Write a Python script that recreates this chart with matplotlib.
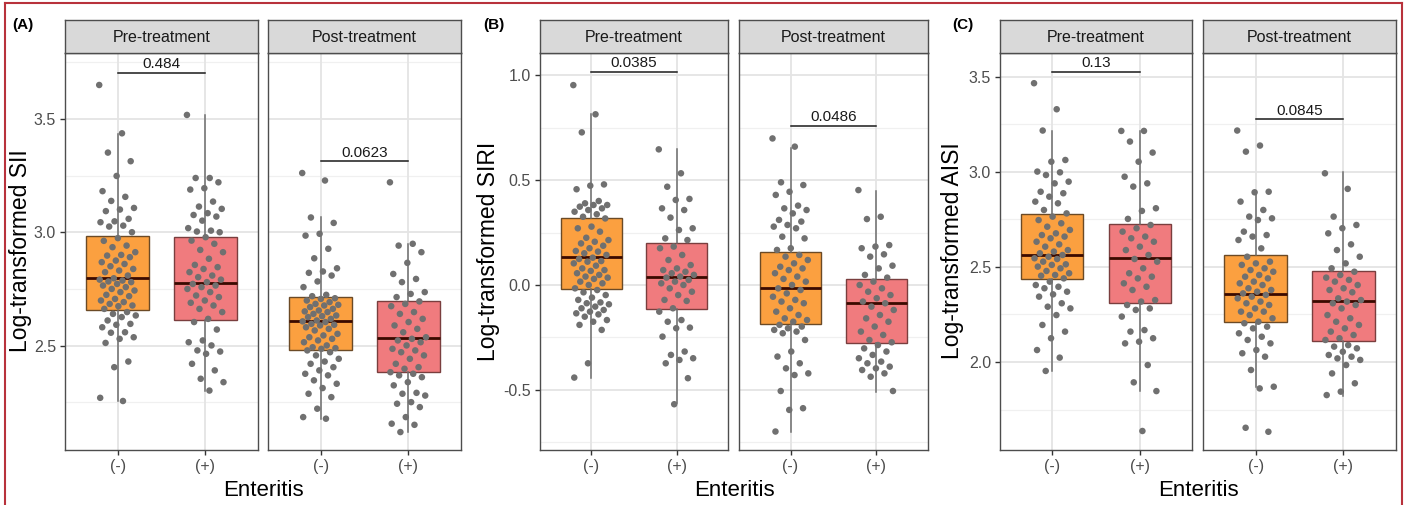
import numpy as np
import matplotlib
matplotlib.use("Agg")
import matplotlib.pyplot as plt
from matplotlib.lines import Line2D

plt.rcParams['font.family'] = ['Liberation Sans', 'DejaVu Sans']
plt.rcParams['axes.unicode_minus'] = False

# ---- data ----
facets = ["Pre-treatment", "Post-treatment"]
groups = ["(-)", "(+)"]

# (A) SII
sii_pre_neg = [3.649, 3.436, 3.351, 3.313, 3.248, 3.181, 3.156, 3.138, 3.107, 3.100, 3.093, 3.059,
               3.048, 3.044, 3.029, 3.025, 3.000, 2.974, 2.962, 2.941, 2.934, 2.912, 2.900, 2.897,
               2.890, 2.875, 2.868, 2.860, 2.850, 2.838, 2.831, 2.824, 2.809, 2.797, 2.791, 2.787,
               2.783, 2.780, 2.772, 2.765, 2.758, 2.750, 2.743, 2.736, 2.724, 2.718, 2.706, 2.699,
               2.692, 2.684, 2.677, 2.674, 2.662, 2.648, 2.640, 2.633, 2.626, 2.611, 2.596, 2.592,
               2.581, 2.559, 2.557, 2.537, 2.530, 2.512, 2.430, 2.405, 2.270, 2.256]
sii_pre_pos = [3.517, 3.239, 3.239, 3.220, 3.194, 3.188, 3.135, 3.113, 3.103, 3.084, 3.076, 3.069,
               3.051, 3.018, 3.007, 3.003, 3.000, 2.978, 2.963, 2.949, 2.922, 2.912, 2.883, 2.856,
               2.846, 2.838, 2.824, 2.809, 2.802, 2.791, 2.780, 2.772, 2.765, 2.758, 2.750, 2.736,
               2.721, 2.714, 2.699, 2.689, 2.677, 2.662, 2.648, 2.618, 2.604, 2.571, 2.523, 2.515,
               2.501, 2.479, 2.474, 2.464, 2.420, 2.391, 2.354, 2.339, 2.302]
sii_post_neg = [3.261, 3.228, 3.065, 3.041, 2.993, 2.985, 2.927, 2.885, 2.841, 2.827, 2.821, 2.809,
                2.783, 2.758, 2.724, 2.718, 2.709, 2.706, 2.699, 2.692, 2.684, 2.680, 2.677, 2.670,
                2.662, 2.655, 2.651, 2.648, 2.640, 2.633, 2.630, 2.626, 2.618, 2.611, 2.607, 2.604,
                2.596, 2.592, 2.589, 2.581, 2.574, 2.567, 2.552, 2.545, 2.537, 2.530, 2.523, 2.515,
                2.501, 2.493, 2.489, 2.486, 2.479, 2.471, 2.457, 2.442, 2.430, 2.420, 2.405, 2.391,
                2.376, 2.369, 2.347, 2.332, 2.313, 2.288, 2.273, 2.222, 2.185, 2.178]
sii_post_pos = [3.220, 2.949, 2.941, 2.912, 2.865, 2.816, 2.794, 2.780, 2.736, 2.728, 2.714, 2.695,
                2.684, 2.674, 2.648, 2.640, 2.618, 2.604, 2.589, 2.574, 2.559, 2.537, 2.530, 2.523,
                2.515, 2.501, 2.486, 2.479, 2.471, 2.457, 2.442, 2.420, 2.405, 2.398, 2.383, 2.376,
                2.369, 2.361, 2.339, 2.325, 2.292, 2.288, 2.280, 2.251, 2.244, 2.229, 2.185, 2.156,
                2.151, 2.119]
sii_q1 = [2.659, 2.615, 2.481, 2.385]
sii_med = [2.796, 2.776, 2.607, 2.534]
sii_q3 = [2.982, 2.980, 2.716, 2.698]
sii_lo = [2.258, 2.300, 2.178, 2.118]
sii_hi = [3.434, 3.518, 3.066, 2.947]
sii_p = ["0.484", "0.0623"]
sii_p_y = [3.704, 3.312]

# (B) SIRI
siri_pre_neg = [0.952, 0.813, 0.727, 0.479, 0.473, 0.456, 0.400, 0.389, 0.381, 0.381, 0.373, 0.365,
                0.357, 0.349, 0.337, 0.325, 0.317, 0.278, 0.270, 0.254, 0.225, 0.214, 0.206, 0.198,
                0.187, 0.175, 0.162, 0.159, 0.151, 0.143, 0.130, 0.124, 0.114, 0.111, 0.103, 0.092,
                0.079, 0.071, 0.067, 0.056, 0.048, 0.040, 0.035, 0.029, 0.016, 0.008, 0.000, -0.016,
                -0.024, -0.035, -0.048, -0.060, -0.071, -0.083, -0.087, -0.092, -0.103, -0.111,
                -0.119, -0.127, -0.135, -0.140, -0.151, -0.167, -0.175, -0.190, -0.214, -0.373, -0.441]
siri_pre_pos = [0.646, 0.532, 0.468, 0.410, 0.405, 0.365, 0.357, 0.321, 0.270, 0.262, 0.222, 0.214,
                0.183, 0.175, 0.143, 0.119, 0.095, 0.079, 0.071, 0.063, 0.056, 0.048, 0.040, 0.035,
                0.024, 0.016, 0.008, 0.000, -0.016, -0.032, -0.048, -0.071, -0.076, -0.111, -0.127,
                -0.167, -0.175, -0.203, -0.206, -0.246, -0.317, -0.333, -0.349, -0.357, -0.373,
                -0.444, -0.568]
siri_post_neg = [0.698, 0.659, 0.489, 0.476, 0.444, 0.429, 0.378, 0.365, 0.357, 0.341, 0.310, 0.302,
                 0.286, 0.278, 0.270, 0.230, 0.222, 0.175, 0.167, 0.143, 0.135, 0.119, 0.103, 0.087,
                 0.079, 0.071, 0.056, 0.040, 0.029, 0.016, 0.000, -0.016, -0.024, -0.040, -0.056,
                 -0.071, -0.079, -0.087, -0.111, -0.127, -0.143, -0.159, -0.167, -0.175, -0.190,
                 -0.198, -0.206, -0.214, -0.222, -0.230, -0.262, -0.317, -0.341, -0.373, -0.397,
                 -0.421, -0.429, -0.505, -0.587, -0.595, -0.698]
siri_post_pos = [0.452, 0.325, 0.314, 0.190, 0.183, 0.175, 0.146, 0.135, 0.092, 0.079, 0.048, 0.035,
                 0.016, 0.000, -0.016, -0.032, -0.048, -0.063, -0.079, -0.087, -0.103, -0.119,
                 -0.143, -0.159, -0.175, -0.198, -0.222, -0.238, -0.262, -0.273, -0.286, -0.302,
                 -0.317, -0.333, -0.349, -0.365, -0.373, -0.389, -0.397, -0.405, -0.421, -0.437, -0.505]
siri_q1 = [-0.019, -0.114, -0.186, -0.278]
siri_med = [0.132, 0.040, -0.016, -0.087]
siri_q3 = [0.319, 0.201, 0.156, 0.029]
siri_lo = [-0.441, -0.560, -0.698, -0.508]
siri_hi = [0.814, 0.646, 0.654, 0.449]
siri_p = ["0.0385", "0.0486"]
siri_p_y = [1.016, 0.759]

# (C) AISI
aisi_pre_neg = [3.467, 3.330, 3.218, 3.063, 3.054, 3.002, 2.998, 2.984, 2.949, 2.940, 2.896, 2.888,
                2.870, 2.844, 2.835, 2.800, 2.782, 2.765, 2.747, 2.730, 2.712, 2.695, 2.677, 2.668,
                2.660, 2.651, 2.633, 2.619, 2.607, 2.589, 2.581, 2.572, 2.563, 2.554, 2.546, 2.542,
                2.528, 2.514, 2.511, 2.502, 2.493, 2.479, 2.467, 2.458, 2.454, 2.440, 2.423, 2.405,
                2.396, 2.388, 2.370, 2.356, 2.344, 2.309, 2.291, 2.282, 2.247, 2.195, 2.160, 2.125,
                2.063, 2.023, 1.953]
aisi_pre_pos = [3.216, 3.216, 3.160, 3.102, 3.054, 2.975, 2.940, 2.923, 2.809, 2.795, 2.753, 2.721,
                2.704, 2.686, 2.660, 2.651, 2.633, 2.607, 2.589, 2.563, 2.542, 2.528, 2.493, 2.467,
                2.449, 2.440, 2.414, 2.396, 2.379, 2.326, 2.318, 2.300, 2.282, 2.274, 2.239, 2.168,
                2.160, 2.125, 2.107, 2.098, 1.984, 1.893, 1.847, 1.637]
aisi_post_neg = [3.218, 3.139, 3.107, 2.896, 2.893, 2.844, 2.800, 2.765, 2.756, 2.747, 2.686, 2.668,
                 2.660, 2.642, 2.598, 2.554, 2.528, 2.519, 2.511, 2.493, 2.484, 2.475, 2.458, 2.449,
                 2.440, 2.423, 2.414, 2.405, 2.388, 2.379, 2.370, 2.361, 2.353, 2.344, 2.335, 2.318,
                 2.309, 2.300, 2.282, 2.265, 2.265, 2.247, 2.230, 2.212, 2.204, 2.186, 2.177, 2.151,
                 2.133, 2.116, 2.098, 2.063, 2.046, 2.028, 1.958, 1.870, 1.861, 1.654, 1.633]
aisi_post_pos = [2.993, 2.911, 2.765, 2.721, 2.704, 2.677, 2.619, 2.589, 2.554, 2.519, 2.493, 2.475,
                 2.458, 2.444, 2.432, 2.423, 2.405, 2.388, 2.379, 2.367, 2.335, 2.326, 2.318, 2.309,
                 2.300, 2.282, 2.247, 2.230, 2.212, 2.195, 2.177, 2.160, 2.142, 2.125, 2.116, 2.089,
                 2.081, 2.072, 2.054, 2.037, 2.028, 2.019, 2.011, 1.984, 1.940, 1.888, 1.844, 1.826]
aisi_q1 = [2.435, 2.310, 2.212, 2.112]
aisi_med = [2.563, 2.549, 2.358, 2.321]
aisi_q3 = [2.777, 2.724, 2.563, 2.479]
aisi_lo = [1.953, 1.850, 1.870, 1.820]
aisi_hi = [3.216, 3.216, 2.893, 2.998]
aisi_p = ["0.13", "0.0845"]
aisi_p_y = [3.528, 3.279]

# ---- layout (pixels of the 1407x505 picture) ----
W, H = 1407, 505
fig = plt.figure(figsize=(W / 100, H / 100), dpi=100)

def rect(x0, x1, y0, y1):
    return [x0 / W, 1 - y1 / H, (x1 - x0) / W, (y1 - y0) / H]

box_colors = ["#FBA040", "#F07B7E"]
edge_colors = ["#6B4A26", "#7A3E3E"]
grey_txt = "#4D4D4D"

panels = [
    dict(tag="(A)", ylabel="Log-transformed SII", cols=[(65, 258), (268, 461)], lim=(2.04, 3.79),
         ticks=[2.5, 3.0, 3.5], minor=[2.25, 2.75, 3.25, 3.75],
         pts=[sii_pre_neg, sii_pre_pos, sii_post_neg, sii_post_pos],
         q1=sii_q1, med=sii_med, q3=sii_q3, lo=sii_lo, hi=sii_hi, p=sii_p, py=sii_p_y,
         tagx=12, ylx=21),
    dict(tag="(B)", ylabel="Log-transformed SIRI", cols=[(540, 728), (739, 928)], lim=(-0.786, 1.105),
         ticks=[-0.5, 0.0, 0.5, 1.0], minor=[-0.75, -0.25, 0.25, 0.75],
         pts=[siri_pre_neg, siri_pre_pos, siri_post_neg, siri_post_pos],
         q1=siri_q1, med=siri_med, q3=siri_q3, lo=siri_lo, hi=siri_hi, p=siri_p, py=siri_p_y,
         tagx=483, ylx=488),
    dict(tag="(C)", ylabel="Log-transformed AISI", cols=[(1000, 1192), (1203, 1396)], lim=(1.537, 3.626),
         ticks=[2.0, 2.5, 3.0, 3.5], minor=[1.75, 2.25, 2.75, 3.25],
         pts=[aisi_pre_neg, aisi_pre_pos, aisi_post_neg, aisi_post_pos],
         q1=aisi_q1, med=aisi_med, q3=aisi_q3, lo=aisi_lo, hi=aisi_hi, p=aisi_p, py=aisi_p_y,
         tagx=952, ylx=953),
]

golden = 0.6180339887

for pan in panels:
    for f, (x0, x1) in enumerate(pan["cols"]):
        ax = fig.add_axes(rect(x0, x1, 53, 450))
        ax.set_xlim(0.4, 2.6)
        ax.set_ylim(*pan["lim"])
        ax.set_facecolor("white")
        for y in pan["minor"]:
            ax.axhline(y, color="#F0F0F0", lw=0.9, zorder=0)
        for y in pan["ticks"]:
            ax.axhline(y, color="#E4E4E4", lw=1.3, zorder=0)
        for x in [1, 2]:
            ax.axvline(x, color="#E4E4E4", lw=1.3, zorder=0)

        for g in range(2):
            k = f * 2 + g
            st = dict(med=pan["med"][k], q1=pan["q1"][k], q3=pan["q3"][k],
                      whislo=pan["lo"][k], whishi=pan["hi"][k], fliers=[])
            ax.bxp([st], positions=[g + 1], widths=0.71, patch_artist=True, showfliers=False,
                   showcaps=False,
                   boxprops=dict(facecolor=box_colors[g], edgecolor=edge_colors[g], lw=1.0),
                   medianprops=dict(color="#3A0A00", lw=2.0),
                   whiskerprops=dict(color="#6E6E6E", lw=1.1), zorder=2)
            vals = np.array(pan["pts"][k])
            off = ((np.arange(len(vals)) * golden) % 1 - 0.5) * 0.42
            ax.scatter(g + 1 + off, vals, s=22, color="#707070", edgecolors="none", zorder=3)

        # p-value bracket
        yb = pan["py"][f]
        ax.plot([1, 2], [yb, yb], color="#1A1A1A", lw=1.1, zorder=4)
        ax.annotate(pan["p"][f], (1.5, yb), xytext=(0, 1.0), textcoords="offset points",
                    ha="center", va="bottom", fontsize=11, color="#1A1A1A")

        ax.set_xticks([1, 2])
        ax.set_xticklabels(groups, fontsize=11.5, color=grey_txt)
        ax.set_yticks(pan["ticks"])
        if f == 0:
            ax.set_yticklabels([f"{t:.1f}" for t in pan["ticks"]], fontsize=11.5, color=grey_txt)
        else:
            ax.tick_params(axis="y", left=False, labelleft=False)
        ax.tick_params(length=3.5, width=1, color="#333333", pad=3)
        for s in ax.spines.values():
            s.set_color("#4D4D4D")
            s.set_linewidth(1.0)

        # strip
        sax = fig.add_axes(rect(x0, x1, 20, 53))
        sax.set_facecolor("#D9D9D9")
        sax.set_xticks([])
        sax.set_yticks([])
        for s in sax.spines.values():
            s.set_color("#4D4D4D")
            s.set_linewidth(1.0)
        sax.text(0.5, 0.47, facets[f], ha="center", va="center", fontsize=11.5,
                 color="#1A1A1A", transform=sax.transAxes)

    xa = pan["cols"][0][0]
    xb = pan["cols"][1][1]
    fig.text((xa + xb) / 2 / W, 1 - 491 / H, "Enteritis", ha="center", va="center", fontsize=16)
    fig.text(pan["ylx"] / W, 1 - 251 / H, pan["ylabel"], rotation=90, ha="center", va="center",
             fontsize=16.5)
    fig.text(pan["tagx"] / W, 1 - 25 / H, pan["tag"], ha="left", va="center", fontsize=11,
             fontweight="bold")

# thin red frame
red = "#B8323C"
fig.add_artist(Line2D([5 / W, 1402 / W], [1 - 3 / H, 1 - 3 / H], color=red, lw=1.5))
fig.add_artist(Line2D([5 / W, 5 / W], [0, 1 - 3 / H], color=red, lw=1.5))
fig.add_artist(Line2D([1402 / W, 1402 / W], [0, 1 - 3 / H], color=red, lw=1.5))

fig.savefig("out.png", dpi=100)
